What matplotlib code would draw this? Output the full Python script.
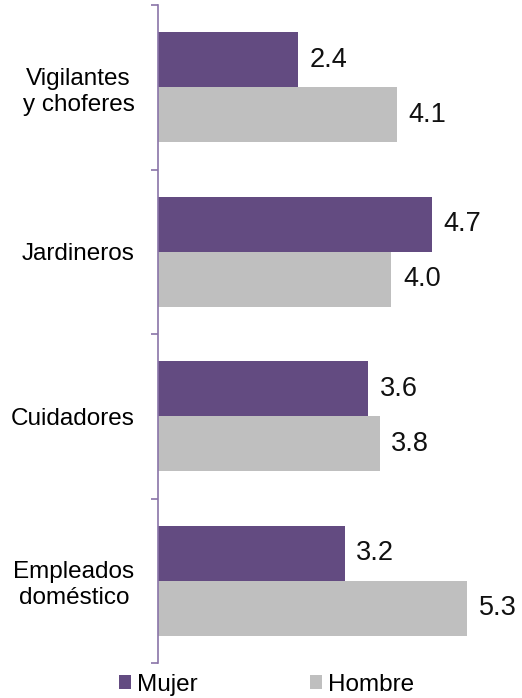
import numpy as np
import matplotlib.pyplot as plt

plt.rcParams['font.family'] = ['Liberation Sans', 'DejaVu Sans']

categorias = ['Vigilantes\ny choferes', 'Jardineros', 'Cuidadores', 'Empleados\ndoméstico']
mujer = [2.4, 4.7, 3.6, 3.2]
hombre = [4.1, 4.0, 3.8, 5.3]

c_mujer = '#634b81'
c_hombre = '#bfbfbf'
c_eje = '#8a74a8'

fig = plt.figure(figsize=(5.22, 6.98), dpi=100)
ax = fig.add_axes([158/522, 1 - 663/698, 350/522, 658/698])

y = np.arange(len(categorias))
h = 1/3
b1 = ax.barh(y - h/2, mujer, height=h, color=c_mujer, label='Mujer')
b2 = ax.barh(y + h/2, hombre, height=h, color=c_hombre, label='Hombre')

# etiquetas de valor a la derecha de cada barra
for barras, vals in ((b1, mujer), (b2, hombre)):
    for r, v in zip(barras, vals):
        ax.text(v + 0.2, r.get_y() + r.get_height()/2, f'{v:.1f}',
                va='center', ha='left', fontsize=19.5, color='#111111')

ax.set_xlim(0, 6)
ax.set_ylim(len(categorias) - 0.5, -0.5)

for s in ['top', 'right', 'bottom']:
    ax.spines[s].set_visible(False)
ax.spines['left'].set_color(c_eje)
ax.spines['left'].set_linewidth(1.2)
ax.set_xticks([])

# marcas en los limites de cada grupo, nombres en el centro
ax.set_yticks(np.arange(-0.5, len(categorias)), labels=[])
ax.tick_params(axis='y', which='major', length=5, width=1.2, color=c_eje, direction='out')
ax.set_yticks(y, labels=categorias, minor=True)
ax.tick_params(axis='y', which='minor', length=0, pad=17, labelsize=17.5)
for t in ax.get_yticklabels(minor=True):
    t.set_horizontalalignment('right')
    t.set_multialignment('center')
    t.set_linespacing(1.25)

fig.legend(handles=[b1, b2], loc='center left', bbox_to_anchor=(119/522, 1 - 685/698),
           ncol=2, frameon=False, fontsize=17.5, handlelength=0.5, handleheight=0.5,
           handletextpad=0.25, columnspacing=4.6, borderaxespad=0, borderpad=0)

fig.savefig('out.png', dpi=100)
